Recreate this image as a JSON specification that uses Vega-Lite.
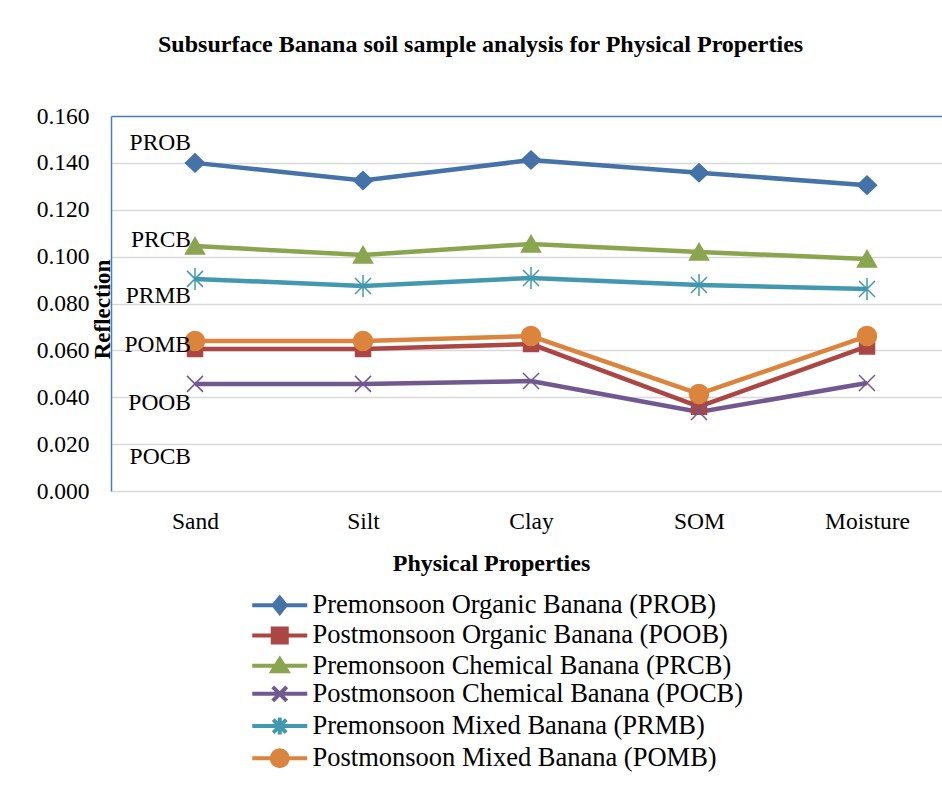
{
  "$schema": "https://vega.github.io/schema/vega-lite/v6.json",
  "width": 840,
  "height": 375,
  "autosize": "none",
  "padding": {"left": 111, "top": 116, "right": 0, "bottom": 304},
  "background": "white",
  "title": {
    "text": "Subsurface Banana soil sample analysis for Physical Properties",
    "font": "Liberation Serif",
    "fontSize": 24,
    "fontWeight": "bold",
    "color": "black",
    "anchor": "start",
    "frame": "group",
    "dx": 47,
    "offset": 47
  },
  "config": {
    "view": {"stroke": null},
    "font": "Liberation Serif"
  },
  "resolve": {"scale": {"color": "independent", "stroke": "independent", "shape": "independent"}},
  "data": {
    "values": [
      {"prop": "Sand", "code": "PROB", "value": 0.1400},
      {"prop": "Silt", "code": "PROB", "value": 0.1325},
      {"prop": "Clay", "code": "PROB", "value": 0.1412},
      {"prop": "SOM", "code": "PROB", "value": 0.1358},
      {"prop": "Moisture", "code": "PROB", "value": 0.1305},
      {"prop": "Sand", "code": "POOB", "value": 0.0606},
      {"prop": "Silt", "code": "POOB", "value": 0.0606},
      {"prop": "Clay", "code": "POOB", "value": 0.0627},
      {"prop": "SOM", "code": "POOB", "value": 0.0360},
      {"prop": "Moisture", "code": "POOB", "value": 0.0617},
      {"prop": "Sand", "code": "PRCB", "value": 0.1045},
      {"prop": "Silt", "code": "PRCB", "value": 0.1007},
      {"prop": "Clay", "code": "PRCB", "value": 0.1054},
      {"prop": "SOM", "code": "PRCB", "value": 0.1020},
      {"prop": "Moisture", "code": "PRCB", "value": 0.0990},
      {"prop": "Sand", "code": "POCB", "value": 0.0457},
      {"prop": "Silt", "code": "POCB", "value": 0.0457},
      {"prop": "Clay", "code": "POCB", "value": 0.0469},
      {"prop": "SOM", "code": "POCB", "value": 0.0337},
      {"prop": "Moisture", "code": "POCB", "value": 0.0461},
      {"prop": "Sand", "code": "PRMB", "value": 0.0905},
      {"prop": "Silt", "code": "PRMB", "value": 0.0875},
      {"prop": "Clay", "code": "PRMB", "value": 0.0909},
      {"prop": "SOM", "code": "PRMB", "value": 0.0879},
      {"prop": "Moisture", "code": "PRMB", "value": 0.0862},
      {"prop": "Sand", "code": "POMB", "value": 0.0640},
      {"prop": "Silt", "code": "POMB", "value": 0.0640},
      {"prop": "Clay", "code": "POMB", "value": 0.0661},
      {"prop": "SOM", "code": "POMB", "value": 0.0414},
      {"prop": "Moisture", "code": "POMB", "value": 0.0661}
    ]
  },
  "encoding": {
    "x": {
      "field": "prop",
      "type": "nominal",
      "sort": ["Sand", "Silt", "Clay", "SOM", "Moisture"],
      "scale": {"type": "point", "padding": 0.5},
      "axis": {
        "title": "Physical Properties",
        "titleFont": "Liberation Serif",
        "titleFontSize": 24,
        "titleFontWeight": "bold",
        "titleColor": "black",
        "titleX": 380,
        "titleY": 72,
        "titleBaseline": "middle",
        "labelFont": "Liberation Serif",
        "labelFontSize": 23.5,
        "labelColor": "black",
        "labelPadding": 18,
        "labelAngle": 0,
        "domain": false,
        "ticks": false,
        "grid": false
      }
    },
    "y": {
      "field": "value",
      "type": "quantitative",
      "scale": {"domain": [0, 0.16], "nice": false},
      "axis": {
        "title": "Reflection",
        "titleFont": "Liberation Serif",
        "titleFontSize": 23,
        "titleFontWeight": "bold",
        "titleColor": "black",
        "titleX": -2,
        "titleY": 193,
        "titleBaseline": "alphabetic",
        "titleAlign": "center",
        "values": [0, 0.02, 0.04, 0.06, 0.08, 0.1, 0.12, 0.14, 0.16],
        "format": ".3f",
        "labelFont": "Liberation Serif",
        "labelFontSize": 23.5,
        "labelColor": "black",
        "labelPadding": 22,
        "ticks": false,
        "domain": true,
        "domainColor": "#4a7ebb",
        "domainWidth": 1.5,
        "grid": true,
        "gridColor": {"condition": {"test": "datum.value >= 0.159", "value": "#4a7ebb"}, "value": "#d9d9d9"},
        "gridWidth": 1.5
      }
    }
  },
  "layer": [
    {
      "mark": {"type": "line", "strokeWidth": 4.5},
      "encoding": {
        "color": {
          "field": "code",
          "type": "nominal",
          "scale": {
            "domain": ["PROB", "POOB", "PRCB", "POCB", "PRMB", "POMB"],
            "range": ["#4572A7", "#AA4643", "#89A54E", "#71588F", "#4198AF", "#DB843D"]
          },
          "legend": null
        }
      }
    },
    {
      "mark": {"type": "point", "filled": true, "opacity": 1, "strokeWidth": 1.5, "size": 400},
      "encoding": {
        "color": {
          "field": "code",
          "type": "nominal",
          "scale": {
            "domain": ["PROB", "POOB", "PRCB", "POCB", "PRMB", "POMB"],
            "range": ["#4572A7", "#AA4643", "#89A54E", "#71588F", "#4198AF", "#DB843D"]
          },
          "legend": null
        },
        "stroke": {
          "field": "code",
          "type": "nominal",
          "scale": {
            "domain": ["PROB", "POOB", "PRCB", "POCB", "PRMB", "POMB"],
            "range": ["#4572A7", "#AA4643", "#89A54E", "#71588F", "#4198AF", "#DB843D"]
          },
          "legend": null
        },
        "shape": {
          "field": "code",
          "type": "nominal",
          "scale": {
            "domain": ["PROB", "POOB", "PRCB", "POCB", "PRMB", "POMB"],
            "range": [
              "M0,-0.9L0.95,0L0,0.9L-0.95,0Z",
              "M-0.75,-0.75H0.75V0.75H-0.75Z",
              "M0,-0.85L0.95,0.8L-0.95,0.8Z",
              "M-0.8,-0.8L0.8,0.8M-0.8,0.8L0.8,-0.8",
              "M-0.8,-0.8L0.8,0.8M-0.8,0.8L0.8,-0.8M0,-1.1L0,1.1",
              "M0.95,0A0.95,0.95 0 1,1 -0.95,0A0.95,0.95 0 1,1 0.95,0Z"
            ]
          },
          "legend": null
        }
      }
    },
    {
      "mark": {"type": "point", "filled": true, "opacity": 0, "strokeWidth": 4},
      "encoding": {
        "color": {
          "field": "code",
          "type": "nominal",
          "scale": {
            "domain": ["PROB", "POOB", "PRCB", "POCB", "PRMB", "POMB"],
            "range": ["#4572A7", "#AA4643", "#89A54E", "#71588F", "#4198AF", "#DB843D"]
          },
          "legend": {
            "title": null,
            "orient": "none",
            "legendX": 155.5,
            "legendY": 476,
            "direction": "vertical",
            "padding": 0,
            "labelFont": "Liberation Serif",
            "labelFontSize": 26.5,
            "labelColor": "black",
            "labelLimit": 0,
            "labelOffset": 19.5,
            "rowPadding": -0.8,
            "symbolSize": 100,
            "symbolOpacity": 1,
            "symbolStrokeWidth": 4,
            "labelExpr": "{'PROB': 'Premonsoon Organic Banana (PROB)', 'POOB': 'Postmonsoon Organic Banana (POOB)', 'PRCB': 'Premonsoon Chemical Banana (PRCB)', 'POCB': 'Postmonsoon Chemical Banana (POCB)', 'PRMB': 'Premonsoon Mixed Banana (PRMB)', 'POMB': 'Postmonsoon Mixed Banana (POMB)'}[datum.label]"
          }
        },
        "stroke": {
          "field": "code",
          "type": "nominal",
          "scale": {
            "domain": ["PROB", "POOB", "PRCB", "POCB", "PRMB", "POMB"],
            "range": ["#4572A7", "#AA4643", "#89A54E", "#71588F", "#4198AF", "#DB843D"]
          }
        },
        "shape": {
          "field": "code",
          "type": "nominal",
          "scale": {
            "domain": ["PROB", "POOB", "PRCB", "POCB", "PRMB", "POMB"],
            "range": [
              "M-5.5,0L5.5,0M0,-1.5L1.2,0L0,1.5L-1.2,0ZM0,-0.7L0.55,0L0,0.7L-0.55,0Z",
              "M-5.5,0L5.5,0M-1.4,-1.4H1.4V1.4H-1.4ZM-0.6,-0.6H0.6V0.6H-0.6Z",
              "M-5.5,0L5.5,0M0,-1.3L1.5,1.1L-1.5,1.1ZM0,-0.42L0.68,0.66L-0.68,0.66Z",
              "M-5.5,0L5.5,0M-1.4,-1.4L1.4,1.4M-1.4,1.4L1.4,-1.4",
              "M-5.5,0L5.5,0M-1.3,-1.3L1.3,1.3M-1.3,1.3L1.3,-1.3M0,-1.7L0,1.7",
              "M-5.5,0L5.5,0M1.6,0A1.6,1.6 0 1,1 -1.6,0A1.6,1.6 0 1,1 1.6,0ZM0.8,0A0.8,0.8 0 1,1 -0.8,0A0.8,0.8 0 1,1 0.8,0Z"
            ]
          }
        }
      }
    },
    {
      "data": {
        "values": [
          {"label": "PROB", "value": 0.1485},
          {"label": "PRCB", "value": 0.1071},
          {"label": "PRMB", "value": 0.0832},
          {"label": "POMB", "value": 0.0623},
          {"label": "POOB", "value": 0.0375},
          {"label": "POCB", "value": 0.0145}
        ]
      },
      "mark": {"type": "text", "align": "right", "baseline": "middle", "dx": -4, "font": "Liberation Serif", "fontSize": 23.5, "color": "black"},
      "encoding": {
        "x": {"datum": "Sand"},
        "text": {"field": "label"}
      }
    }
  ]
}
